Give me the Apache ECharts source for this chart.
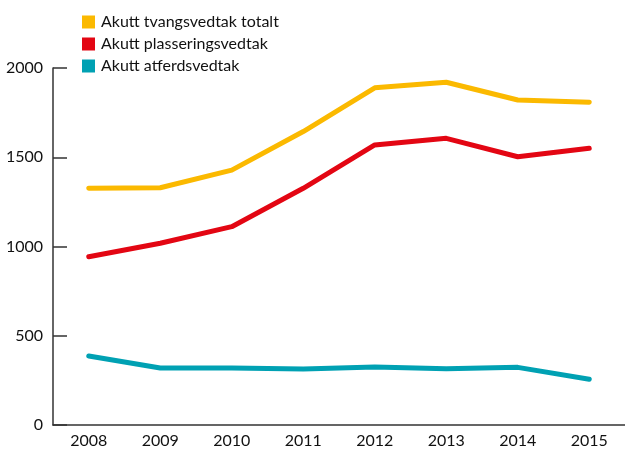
<!DOCTYPE html>
<html>
<head>
<meta charset="utf-8">
<script src="https://cdn.jsdelivr.net/npm/echarts@6/dist/echarts.min.js"></script>
<style>
  html, body { margin: 0; padding: 0; background: #fff; }
  #chart { width: 625px; height: 451px; }
</style>
</head>
<body>
<div id="chart"></div>
<script>
const years = ['2008', '2009', '2010', '2011', '2012', '2013', '2014', '2015'];
const totalt = [1326, 1329, 1428, 1644, 1889, 1920, 1821, 1808];       // Akutt tvangsvedtak totalt
const plassering = [943, 1018, 1111, 1326, 1569, 1606, 1503, 1550];   // Akutt plasseringsvedtak
const atferd = [387, 319, 319, 314, 325, 315, 323, 256];              // Akutt atferdsvedtak

const font = 'Lato';
const chart = echarts.init(document.getElementById('chart'));

function line(name, data, color) {
  return {
    name: name,
    type: 'line',
    data: data,
    symbol: 'none',
    lineStyle: { color: color, width: 5, cap: 'round', join: 'round' },
    itemStyle: { color: color },
    animation: false
  };
}

chart.setOption({
  animation: false,
  textStyle: { fontFamily: font },
  legend: {
    orient: 'vertical',
    left: 82,
    top: 14,
    padding: 0,
    icon: 'rect',
    itemWidth: 13,
    itemHeight: 13,
    itemGap: 6,
    textStyle: { fontFamily: font, fontSize: 16, lineHeight: 13, color: '#111', padding: [0, 0, 0, 1] },
    data: ['Akutt tvangsvedtak totalt', 'Akutt plasseringsvedtak', 'Akutt atferdsvedtak']
  },
  grid: { left: 53, right: 0, top: 68, bottom: 26 },
  xAxis: {
    type: 'category',
    data: years,
    boundaryGap: true,
    axisLine: { lineStyle: { color: '#333', width: 1.5 } },
    axisTick: { inside: true, length: 9, lineStyle: { color: '#333', width: 1.5 } },
    axisLabel: { color: '#111', fontSize: 16, margin: 8, fontFamily: font }
  },
  yAxis: {
    type: 'value',
    min: 0,
    max: 2000,
    interval: 500,
    splitLine: { show: false },
    axisLine: { show: true, lineStyle: { color: '#333', width: 1.5 } },
    axisTick: { show: true, inside: true, length: 14, lineStyle: { color: '#333', width: 1.5 } },
    axisLabel: { color: '#111', fontSize: 16, margin: 10, fontFamily: font, formatter: v => String(v) }
  },
  series: [
    line('Akutt tvangsvedtak totalt', totalt, '#fbb900'),
    line('Akutt plasseringsvedtak', plassering, '#e30613'),
    line('Akutt atferdsvedtak', atferd, '#00a1b3')
  ]
});
</script>
</body>
</html>
